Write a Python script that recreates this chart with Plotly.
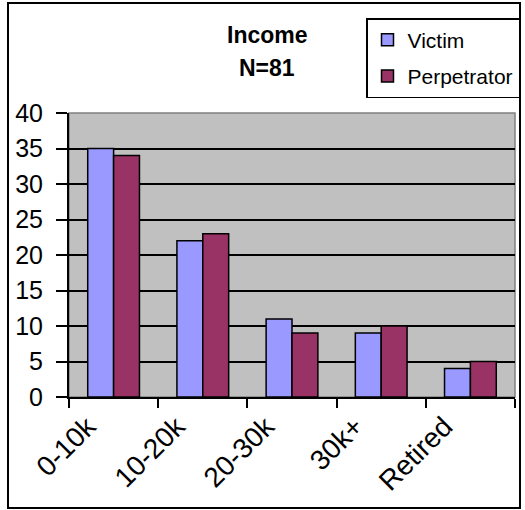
import plotly.graph_objects as go

categories = ["0-10k", "10-20k", "20-30k", "30k+", "Retired"]
victim = [35, 22, 11, 9, 4]
perpetrator = [34, 23, 9, 10, 5]
y_ticks = [0, 5, 10, 15, 20, 25, 30, 35, 40]

FONT = "Liberation Sans, Arial, sans-serif"
L, R, T, B = 69, 10, 113, 113
W, H = 525, 510
pw, ph = W - L - R, H - T - B

def px(x):
    return (x - L) / pw

def py(y):
    return (H - B - y) / ph

fig = go.Figure()
fig.add_trace(go.Bar(name="Victim", x=categories, y=victim, legendgroup="v",
                     marker=dict(color="#9999FF", line=dict(color="black", width=1.5))))
fig.add_trace(go.Bar(name="Perpetrator", x=categories, y=perpetrator, legendgroup="p",
                     marker=dict(color="#993366", line=dict(color="black", width=1.5))))

fig.update_layout(
    width=W, height=H,
    margin=dict(l=L, r=R, t=T, b=B, autoexpand=False),
    paper_bgcolor="white", plot_bgcolor="#C0C0C0",
    font=dict(family=FONT, color="black"),
    barmode="group", bargap=0.42, bargroupgap=0,
    showlegend=True,
    legend=dict(x=px(366), y=py(18), xanchor="left", yanchor="top",
                bgcolor="white", bordercolor="black", borderwidth=1.5,
                font=dict(size=21, family=FONT), traceorder="grouped",
                tracegroupgap=6, itemwidth=30),
    xaxis=dict(tickson="boundaries", ticks="outside", ticklen=9, tickwidth=2,
               tickcolor="black", showline=True, linecolor="black", linewidth=2,
               tickangle=-45, tickfont=dict(size=28, family=FONT),
               ticklabelshift=-26, showgrid=False, fixedrange=True),
    yaxis=dict(range=[0, 40], tickvals=y_ticks, ticks="outside", ticklen=11,
               tickwidth=2, tickcolor="black", showline=True, linecolor="black",
               linewidth=2, showgrid=True, gridcolor="black", gridwidth=2,
               tickfont=dict(size=25, family=FONT), ticklabelstandoff=8,
               zeroline=False),
    shapes=[
        dict(type="rect", xref="paper", yref="paper", x0=px(8), x1=px(520),
             y0=py(508), y1=py(3), line=dict(color="black", width=2),
             fillcolor="rgba(0,0,0,0)", layer="below"),
        dict(type="rect", xref="paper", yref="paper", x0=0, x1=1, y0=0, y1=1,
             line=dict(color="#808080", width=1.5), fillcolor="rgba(0,0,0,0)",
             layer="below"),
    ],
    annotations=[
        dict(text="<b>Income</b>", xref="paper", yref="paper", x=px(267), y=py(35),
             showarrow=False, font=dict(size=23, family=FONT), xanchor="center", yanchor="middle"),
        dict(text="<b>N=81</b>", xref="paper", yref="paper", x=px(267), y=py(68),
             showarrow=False, font=dict(size=23, family=FONT), xanchor="center", yanchor="middle"),
    ],
)

fig.write_html("out.html", config={"displayModeBar": False},
               post_script="document.body.style.margin='0';")
